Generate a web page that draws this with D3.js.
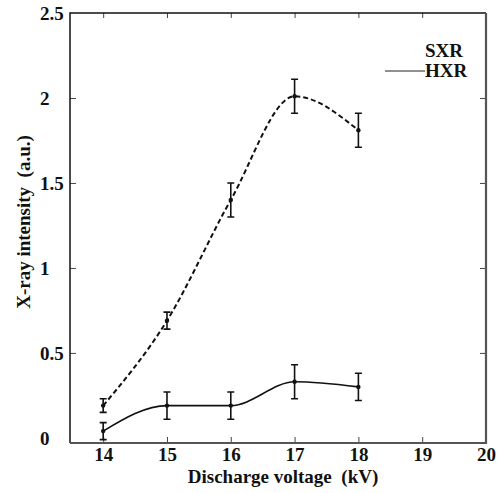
<!DOCTYPE html>
<html>
<head>
<meta charset="utf-8">
<script src="https://cdn.jsdelivr.net/npm/d3@7"></script>
<style>
  body { margin: 0; background: #fff; }
</style>
</head>
<body>
<script>
var width = 497;
var height = 493;
var serif = "'Liberation Serif', 'Times New Roman', serif";

// data
var voltage = [14, 15, 16, 17, 18];
var sxr = [0.19, 0.69, 1.40, 2.01, 1.81];
var sxrErr = [0.04, 0.05, 0.10, 0.10, 0.10];
var hxr = [0.04, 0.19, 0.19, 0.33, 0.30];
var hxrErr = [0.05, 0.08, 0.08, 0.10, 0.08];

var xTicks = [14, 15, 16, 17, 18, 19, 20];
var xTickLabels = ["14", "15", "16", "17", "18", "19", "20"];
var yTicks = [0, 0.5, 1, 1.5, 2, 2.5];
var yTickLabels = ["0", "0.5", "1", "1.5", "2", "2.5"];

var plotLeft = 70, plotRight = 486, plotTop = 13, plotBottom = 443;

var svg = d3.select("body").append("svg")
    .attr("width", width)
    .attr("height", height);

var x = d3.scaleLinear().domain([13.48, 20]).range([plotLeft, plotRight]);
var y = d3.scaleLinear().domain([-0.03, 2.5]).range([plotBottom, plotTop]);

function styleAxis(g) {
    g.attr("font-family", serif).attr("font-size", 19).attr("font-weight", "bold");
    g.select(".domain").remove();
    g.selectAll(".tick line").attr("stroke", "#444").attr("stroke-width", 1);
    g.selectAll("text").attr("fill", "#111");
}

// bottom axis
var xAxis = svg.append("g")
    .attr("transform", "translate(0," + plotBottom + ")")
    .call(d3.axisBottom(x).tickValues(xTicks)
        .tickFormat(function(d, i) { return xTickLabels[i]; })
        .tickSizeInner(-6).tickSizeOuter(0).tickPadding(5));
styleAxis(xAxis);

// top axis (ticks only)
var xAxisTop = svg.append("g")
    .attr("transform", "translate(0," + plotTop + ")")
    .call(d3.axisTop(x).tickValues(xTicks.slice(0, -1))
        .tickFormat("").tickSizeInner(-5).tickSizeOuter(0));
styleAxis(xAxisTop);

// left axis, labels are left-aligned in the original
var yAxis = svg.append("g")
    .attr("transform", "translate(" + plotLeft + ",0)")
    .call(d3.axisLeft(y).tickValues(yTicks)
        .tickFormat(function(d, i) { return yTickLabels[i]; })
        .tickSizeInner(-6).tickSizeOuter(0));
styleAxis(yAxis);
yAxis.selectAll(".tick").filter(function(d) { return d === 0 || d === 2.5; }).select("line").remove();
yAxis.selectAll("text")
    .attr("text-anchor", "start")
    .attr("x", -30)
    .attr("dy", "0.33em");

// right axis (ticks only)
var yAxisRight = svg.append("g")
    .attr("transform", "translate(" + plotRight + ",0)")
    .call(d3.axisRight(y).tickValues(yTicks.slice(1, -1))
        .tickFormat("").tickSizeInner(-6).tickSizeOuter(0));
styleAxis(yAxisRight);

// frame
svg.append("path")
    .attr("d", "M" + plotLeft + "," + plotBottom + "V" + plotTop + "H" + plotRight)
    .attr("fill", "none").attr("stroke", "#111").attr("stroke-width", 1.5);
svg.append("path")
    .attr("d", "M" + plotLeft + "," + plotBottom + "H" + plotRight + "V" + plotTop)
    .attr("fill", "none").attr("stroke", "#555").attr("stroke-width", 2.2);

var line = d3.line()
    .x(function(d) { return x(d[0]); })
    .y(function(d) { return y(d[1]); })
    .curve(d3.curveMonotoneX);

var sxrData = voltage.map(function(v, i) { return [v, sxr[i], sxrErr[i]]; });
var hxrData = voltage.map(function(v, i) { return [v, hxr[i], hxrErr[i]]; });

svg.append("path")
    .datum(sxrData)
    .attr("d", line)
    .attr("fill", "none").attr("stroke", "#111")
    .attr("stroke-width", 2).attr("stroke-dasharray", "5,3");

svg.append("path")
    .datum(hxrData)
    .attr("d", line)
    .attr("fill", "none").attr("stroke", "#111")
    .attr("stroke-width", 1.6);

function drawErrors(data) {
    var g = svg.append("g").attr("stroke", "#111").attr("stroke-width", 1.6);
    var capW = 3.5;
    g.selectAll(".bar").data(data).enter().append("path")
        .attr("d", function(d) {
            var cx = x(d[0]), t = y(d[1] + d[2]), b = y(d[1] - d[2]);
            return "M" + cx + "," + t + "V" + b +
                "M" + (cx - capW) + "," + t + "H" + (cx + capW) +
                "M" + (cx - capW) + "," + b + "H" + (cx + capW);
        });
    svg.append("g").selectAll("circle").data(data).enter().append("circle")
        .attr("cx", function(d) { return x(d[0]); })
        .attr("cy", function(d) { return y(d[1]); })
        .attr("r", 2.2).attr("fill", "#111");
}
drawErrors(sxrData);
drawErrors(hxrData);

// legend
var legend = svg.append("g")
    .attr("font-family", serif).attr("font-size", 19).attr("font-weight", "bold").attr("fill", "#111");
legend.append("text").attr("x", 425).attr("y", 57).text("SXR");
legend.append("line").attr("x1", 385).attr("x2", 425).attr("y1", 71).attr("y2", 71)
    .attr("stroke", "#222").attr("stroke-width", 1);
legend.append("text").attr("x", 425).attr("y", 77).text("HXR");

// axis titles
var titles = svg.append("g")
    .attr("font-family", serif).attr("font-size", 19).attr("font-weight", "bold").attr("fill", "#111");
titles.append("text")
    .attr("x", 283).attr("y", 483)
    .attr("text-anchor", "middle")
    .style("white-space", "pre")
    .text("Discharge voltage  (kV)");

titles.append("text")
    .attr("transform", "translate(30,222) rotate(-90)")
    .attr("text-anchor", "middle")
    .style("white-space", "pre")
    .text("X-ray intensity  (a.u.)");
</script>
</body>
</html>
